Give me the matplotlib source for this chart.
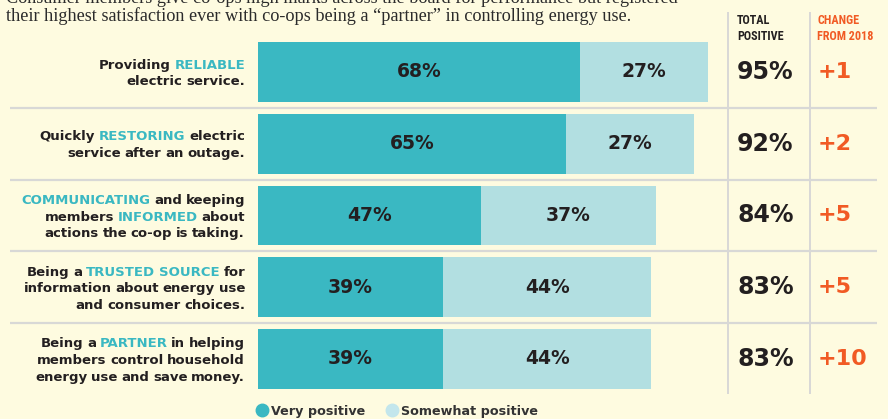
import matplotlib
matplotlib.use('Agg')
import matplotlib.pyplot as plt
import matplotlib.transforms as mtrans
from matplotlib.lines import Line2D
from matplotlib.font_manager import FontProperties

# ---------------- data ----------------
labels = [
    "Providing *RELIABLE*\nelectric service.",
    "Quickly *RESTORING* electric\nservice after an outage.",
    "*COMMUNICATING* and keeping\nmembers *INFORMED* about\nactions the co-op is taking.",
    "Being a *TRUSTED SOURCE* for\ninformation about energy use\nand consumer choices.",
    "Being a *PARTNER* in helping\nmembers control household\nenergy use and save money.",
]
very_positive = [68, 65, 47, 39, 39]
somewhat_positive = [27, 27, 37, 44, 44]
total_positive = [95, 92, 84, 83, 83]
change_2018 = ["+1", "+2", "+5", "+5", "+10"]
legend_labels = ["Very positive", "Somewhat positive"]
header_total = ["TOTAL", "POSITIVE"]
header_change = ["CHANGE", "FROM 2018"]
title_lines = [
    "Consumer members give co-ops high marks across the board for performance but registered",
    "their highest satisfaction ever with co-ops being a \u201cpartner\u201d in controlling energy use.",
]

# ---------------- style ----------------
BG = '#FEFBE0'
TEAL = '#3AB8C2'
LIGHT = '#B2DFE1'
ORANGE = '#F15A24'
DARK = '#231F20'
GRID = '#D8D8D6'

W, H = 888, 419
fig = plt.figure(figsize=(W / 100, H / 100), dpi=100)
fig.patch.set_facecolor(BG)
ax = fig.add_axes([0, 0, 1, 1])
ax.set_facecolor(BG)
ax.axis('off')

X0, PX, Y0, ROW = 258, 4.74, 72, 71.75
ax.set_xlim(-X0 / PX, (W - X0) / PX)
ax.set_ylim((H - Y0) / ROW, -Y0 / ROW)

pix = mtrans.Affine2D().scale(1 / W, -1 / H).translate(0, 1) + fig.transFigure
xpix_ydata = mtrans.blended_transform_factory(pix, ax.transData)

renderer = fig.canvas.get_renderer()


def tw(s, fp):
    w, h, d = renderer.get_text_width_height_descent(s, fp, ismath=False)
    return w


def fit_size(text, fp_kwargs, target):
    fp = FontProperties(size=10, **fp_kwargs)
    return 10 * target / tw(text, fp)


# ---------------- bars ----------------
ypos = list(range(len(labels)))
ax.barh(ypos, very_positive, height=0.836, color=TEAL, linewidth=0)
ax.barh(ypos, somewhat_positive, left=very_positive, height=0.836, color=LIGHT, linewidth=0)

valfont = dict(family='DejaVu Sans', weight='bold', size=13.5, color=DARK)
for i, (v, s) in enumerate(zip(very_positive, somewhat_positive)):
    ax.text(v / 2, i, f"{v}%", ha='center', va='center', **valfont)
    ax.text(v + s / 2, i, f"{s}%", ha='center', va='center', **valfont)

# separators
for i in range(len(labels) - 1):
    ax.plot([10, 877], [i + 0.5, i + 0.5], transform=xpix_ydata, color=GRID, lw=1.6,
            solid_capstyle='butt')
for xv in (728, 810):
    ax.plot([xv, xv], [12, 394], transform=pix, color=GRID, lw=1.4, solid_capstyle='butt')

# ---------------- labels with highlighted words ----------------
lab_fp = FontProperties(family='DejaVu Sans', weight='bold', size=9.5)
SP = 0.8 * (tw('n n', lab_fp) - tw('nn', lab_fp))


def rich_line(xr, yb, line):
    words = line.split(' ')
    hl = []
    on = False
    clean = []
    for w in words:
        if w.startswith('*'):
            on = True
            w = w[1:]
        end = w.endswith('*')
        if end:
            w = w[:-1]
        clean.append(w)
        hl.append(on)
        if end:
            on = False
    widths = [tw(w, lab_fp) for w in clean]
    total = sum(widths) + SP * (len(clean) - 1)
    x = xr - total
    for w, h, wd in zip(clean, hl, widths):
        fig.text(x / W, 1 - yb / H, w, ha='left', va='baseline', fontproperties=lab_fp,
                 color=TEAL if h else DARK)
        x += wd + SP


for i, lab in enumerate(labels):
    lines = lab.split('\n')
    n = len(lines)
    center = Y0 + ROW * i
    for k, ln in enumerate(lines):
        yb = center + 5 + (k - (n - 1) / 2) * 16.7
        rich_line(245, yb, ln)

# ---------------- totals & change ----------------
for i, (t, c) in enumerate(zip(total_positive, change_2018)):
    ax.text(737, i, f"{t}%", transform=xpix_ydata, ha='left', va='center',
            family='DejaVu Sans', weight='bold', size=17, color=DARK)
    ax.text(818, i, c, transform=xpix_ydata, ha='left', va='center',
            family='DejaVu Sans', weight='bold', size=16, color=ORANGE)

# headers (condensed)
hdr_kw = dict(family=['Roboto Condensed', 'Liberation Sans Narrow', 'DejaVu Sans'],
              weight='bold', stretch='condensed')
hs = fit_size("POSITIVE", hdr_kw, 47)
for k, (a, b) in enumerate(zip(header_total, header_change)):
    yb = 24 + k * 15.5
    fig.text(737 / W, 1 - yb / H, a, ha='left', va='baseline', size=hs, color=DARK, **hdr_kw)
    fig.text(817 / W, 1 - yb / H, b, ha='left', va='baseline', size=hs, color=ORANGE, **hdr_kw)

# ---------------- title ----------------
t_kw = dict(family='Liberation Serif')
ts = fit_size(title_lines[1], t_kw, 627)
fig.text(6 / W, 1 - 3 / H, title_lines[0], ha='left', va='baseline', size=ts, color='#2B2B2B', **t_kw)
fig.text(6 / W, 1 - 21 / H, title_lines[1], ha='left', va='baseline', size=ts, color='#2B2B2B', **t_kw)

# ---------------- legend ----------------
handles = [Line2D([], [], marker='o', ls='', color=TEAL, markersize=9),
           Line2D([], [], marker='o', ls='', color='#C3E6EC', markersize=9)]
ax.legend(handles, legend_labels, loc='center left', bbox_to_anchor=(258 / W, 1 - 411 / H),
          bbox_transform=fig.transFigure, ncol=2, frameon=False, handlelength=0.6,
          handletextpad=0.4, columnspacing=1.85, borderpad=0, borderaxespad=0,
          prop=FontProperties(family='DejaVu Sans', weight='bold', size=9.2),
          labelcolor='#333333')

fig.savefig('out.png', dpi=100, facecolor=BG)
